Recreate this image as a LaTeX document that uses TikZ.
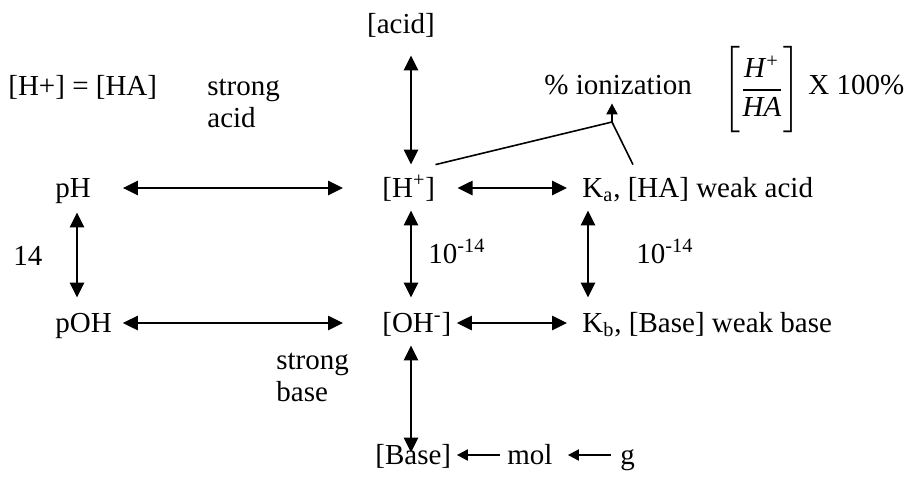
\documentclass[tikz,border=0pt]{standalone}
\usepackage{amsmath}
\usepackage{fontspec}
\setmainfont{Liberation Serif}
\usetikzlibrary{arrows.meta}

\begin{document}
\begin{tikzpicture}[x=0.5pt, y=-0.5pt,
    lbl/.style={inner sep=0pt, anchor=base west, text height=10pt, text depth=2.5pt,
                font=\fontsize{14.5}{16}\selectfont},
    note/.style={inner sep=0pt, anchor=base west, align=left,
                 font=\fontsize{14.5}{16}\selectfont},
    dbl/.style={{Triangle[length=7.5pt, width=7pt]}-{Triangle[length=7.5pt, width=7pt]},
                line width=1.3pt},
    sgl/.style={-{Triangle[length=5.5pt, width=5.5pt]}, line width=1pt},
    link/.style={line width=0.8pt}]
  \useasboundingbox (0,0) rectangle (911,477);

  % rows and columns of the arrows
  \coordinate (r1) at (0,188);
  \coordinate (r2) at (0,323);
  \coordinate (r3) at (0,455);
  \coordinate (c1) at (77,0);
  \coordinate (c2) at (411,0);
  \coordinate (c3) at (588,0);
  \coordinate (jn) at (612,122);

  \node[lbl, anchor=base] (acid) at (401,33) {[acid]};
  \node[lbl] (hpha)  at (8,95)    {[H+] = [HA]};
  \node[note] (sacid) at (207,127) {strong\\acid};
  \node[lbl] (ion)   at (544,94)  {\% ionization};
  \node[inner sep=0pt, font=\fontsize{14.5}{16}\selectfont] (frac) at (762,90)
        {$\Biggl[\dfrac{\textit{H\textsuperscript{+}}}{\textit{HA}}\Biggr]$};
  \node[lbl] (pct)   at (808,94)  {X 100\%};

  \node[lbl] (ph)  at (55,197)  {pH};
  \node[lbl] (hp)  at (382,197) {[H\textsuperscript{+}]};
  \node[lbl] (ka)  at (582,197) {K\textsubscript{a}, [HA] weak acid};

  \node[lbl] (kw0) at (13,265)  {14};
  \node[lbl] (kw1) at (428,263) {10\textsuperscript{-14}};
  \node[lbl] (kw2) at (636,263) {10\textsuperscript{-14}};

  \node[lbl] (poh) at (55,332)  {pOH};
  \node[lbl] (oh)  at (382,332) {[OH\textsuperscript{-}]};
  \node[lbl] (kb)  at (582,332) {K\textsubscript{b}, [Base] weak base};

  \node[note] (sbase) at (276,401) {strong\\base};
  \node[lbl] (base) at (375,464) {[Base]};
  \node[lbl] (mol)  at (507,464) {mol};
  \node[lbl] (g)    at (620,464) {g};

  % horizontal
  \draw[dbl, shorten <=15.8pt, shorten >=19.5pt] (ph.east |- r1) -- (hp.west |- r1);
  \draw[dbl, shorten <=11pt, shorten >=7.5pt] (hp.east |- r1) -- (ka.west |- r1);
  \draw[dbl, shorten <=5.3pt, shorten >=19.5pt] (poh.east |- r2) -- (oh.west |- r2);
  \draw[dbl, shorten <=2.5pt, shorten >=7.5pt] (oh.east |- r2) -- (kb.west |- r2);
  \draw[sgl, shorten <=3.5pt, shorten >=2.7pt] (mol.west |- r3) -- (base.east |- r3);
  \draw[sgl, shorten <=4.5pt, shorten >=7.5pt] (g.west |- r3) -- (mol.east |- r3);

  % vertical
  \draw[dbl, shorten <=8.5pt, shorten >=6pt] (acid.south -| c2) -- (hp.north -| c2);
  \draw[dbl, shorten <=5pt, shorten >=7pt] (ph.south -| c1) -- (poh.north -| c1);
  \draw[dbl, shorten <=4pt, shorten >=7pt] (hp.south -| c2) -- (oh.north -| c2);
  \draw[dbl, shorten <=4pt, shorten >=7pt] (ka.south -| c3) -- (kb.north -| c3);
  \draw[dbl, shorten <=4pt, shorten >=-4.5pt] (oh.south -| c2) -- (base.north -| c2);

  % ionization
  \draw[link] ([yshift=6pt]hp.north east) -- (jn);
  \draw[link] ([shift={(25.5pt,6pt)}]ka.north west) -- (jn);
  \draw[sgl, shorten >=2pt] (jn) -- (ion.south -| jn);
\end{tikzpicture}
\end{document}
